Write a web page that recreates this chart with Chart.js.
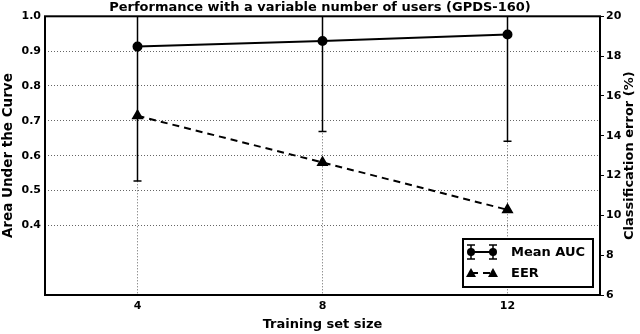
<!DOCTYPE html>
<html>
<head>
<meta charset="utf-8">
<script src="https://cdn.jsdelivr.net/npm/chart.js@4"></script>
<style>
  html, body { margin: 0; padding: 0; background: #fff; }
  #wrap { width: 640px; height: 334px; }
</style>
</head>
<body>
<div id="wrap"><canvas id="perf"></canvas></div>
<script>
// values
const trainingSize = [4, 8, 12];
const meanAuc = [0.913, 0.929, 0.948];
const aucStd = [0.386, 0.26, 0.307];
const eer = [15.0, 12.66, 10.28];
const xTicks = [4, 8, 12];
const aucTicks = [0.4, 0.5, 0.6, 0.7, 0.8, 0.9, 1.0];
const errTicks = [6, 8, 10, 12, 14, 16, 18, 20];

const FONT = 'DejaVu Sans';
const rightTitle = 'Classification error (%)';

// draws the std error bars of Mean AUC
const errorBars = {
	id: 'errorBars',
	afterDatasetsDraw(chart) {
		const { ctx, chartArea, scales } = chart;
		ctx.save();
		ctx.beginPath();
		ctx.rect(chartArea.left, chartArea.top, chartArea.right - chartArea.left, chartArea.bottom - chartArea.top);
		ctx.clip();
		ctx.strokeStyle = '#000';
		ctx.lineWidth = 1.5;
		trainingSize.forEach((x, i) => {
			const px = scales.x.getPixelForValue(x);
			const lo = scales.y.getPixelForValue(meanAuc[i] - aucStd[i]);
			const hi = scales.y.getPixelForValue(meanAuc[i] + aucStd[i]);
			ctx.beginPath();
			ctx.moveTo(px, lo); ctx.lineTo(px, hi);
			ctx.moveTo(px - 4, lo); ctx.lineTo(px + 4, lo);
			ctx.moveTo(px - 4, hi); ctx.lineTo(px + 4, hi);
			ctx.stroke();
		});
		ctx.restore();
	}
};

// black frame round the axes, right axis title (reads upward) and legend box
const frameAndLegend = {
	id: 'frameAndLegend',
	afterDraw(chart) {
		const { ctx, chartArea } = chart;
		ctx.save();
		ctx.strokeStyle = '#000';
		ctx.lineWidth = 2;
		ctx.strokeRect(chartArea.left, chartArea.top, chartArea.right - chartArea.left, chartArea.bottom - chartArea.top);

		// right axis title
		ctx.save();
		ctx.translate(chart.width - 10, (chartArea.top + chartArea.bottom) / 2);
		ctx.rotate(-Math.PI / 2);
		ctx.fillStyle = '#000';
		ctx.font = 'bold 13px "' + FONT + '"';
		ctx.textAlign = 'center';
		ctx.textBaseline = 'middle';
		ctx.fillText(rightTitle, 0, 0);
		ctx.restore();

		const w = 130, h = 48;
		const bx = chartArea.right - 7 - w;
		const by = chartArea.bottom - 8 - h;
		ctx.fillStyle = '#fff';
		ctx.fillRect(bx, by, w, h);
		ctx.strokeRect(bx, by, w, h);

		const sets = chart.data.datasets;
		const x1 = bx + 8, x2 = bx + 30;
		ctx.font = 'bold 13px "' + FONT + '"';
		ctx.textBaseline = 'middle';
		sets.forEach((ds, i) => {
			const y = by + 13 + i * 21;
			ctx.strokeStyle = '#000';
			ctx.lineWidth = ds.borderWidth;
			ctx.setLineDash(ds.borderDash || []);
			ctx.beginPath();
			ctx.moveTo(x1, y); ctx.lineTo(x2, y);
			ctx.stroke();
			ctx.setLineDash([]);
			ctx.fillStyle = '#000';
			[x1, x2].forEach(px => {
				if (ds.pointStyle === 'triangle') {
					ctx.beginPath();
					ctx.moveTo(px, y - 5); ctx.lineTo(px + 5, y + 4); ctx.lineTo(px - 5, y + 4);
					ctx.closePath(); ctx.fill();
				} else {
					ctx.lineWidth = 1.5;
					ctx.beginPath();
					ctx.moveTo(px, y - 7); ctx.lineTo(px, y + 7);
					ctx.moveTo(px - 4, y - 7); ctx.lineTo(px + 4, y - 7);
					ctx.moveTo(px - 4, y + 7); ctx.lineTo(px + 4, y + 7);
					ctx.stroke();
					ctx.beginPath(); ctx.arc(px, y, 4, 0, Math.PI * 2); ctx.fill();
				}
			});
			ctx.fillText(ds.label, bx + 48, y + 1);
		});
		ctx.restore();
	}
};

new Chart(document.getElementById('perf'), {
	type: 'line',
	data: {
		datasets: [
			{
				label: 'Mean AUC',
				data: trainingSize.map((x, i) => ({ x: x, y: meanAuc[i] })),
				yAxisID: 'y',
				borderColor: '#000',
				backgroundColor: '#000',
				borderWidth: 2,
				pointStyle: 'circle',
				pointRadius: 4,
				fill: false
			},
			{
				label: 'EER',
				data: trainingSize.map((x, i) => ({ x: x, y: eer[i] })),
				yAxisID: 'y1',
				borderColor: '#000',
				backgroundColor: '#000',
				borderWidth: 2,
				borderDash: [7, 5],
				pointStyle: 'triangle',
				pointRadius: 5,
				fill: false
			}
		]
	},
	options: {
		responsive: true,
		maintainAspectRatio: false,
		animation: false,
		layout: { padding: 0 },
		scales: {
			x: {
				type: 'linear',
				min: 2,
				max: 14,
				afterBuildTicks: axis => { axis.ticks = xTicks.map(v => ({ value: v })); },
				afterFit: axis => { axis.height = 39; },
				grid: { color: '#666', drawTicks: false },
				border: { display: false, dash: [1, 2] },
				ticks: { color: '#000', padding: 5, font: { family: FONT, size: 11, weight: 'bold' } },
				title: { display: true, text: 'Training set size', color: '#000', padding: { top: 0, bottom: 2 }, font: { family: FONT, size: 13, weight: 'bold' } }
			},
			y: {
				position: 'left',
				min: 0.2,
				max: 1.0,
				afterBuildTicks: axis => { axis.ticks = aucTicks.map(v => ({ value: v })); },
				afterFit: axis => { axis.width = 45; },
				grid: { color: '#666', drawTicks: false },
				border: { display: false, dash: [1, 2] },
				ticks: { color: '#000', padding: 4, font: { family: FONT, size: 11, weight: 'bold' }, callback: v => v.toFixed(1) },
				title: { display: true, text: 'Area Under the Curve', color: '#000', padding: { top: 0, bottom: 2 }, font: { family: FONT, size: 13.5, weight: 'bold' } }
			},
			y1: {
				position: 'right',
				min: 6,
				max: 20,
				afterBuildTicks: axis => { axis.ticks = errTicks.map(v => ({ value: v })); },
				afterFit: axis => { axis.width = 40; },
				grid: { drawOnChartArea: false, drawTicks: true, tickLength: 4, color: '#000' },
				border: { display: false },
				ticks: { color: '#000', padding: 2, font: { family: FONT, size: 11, weight: 'bold' } },
				title: { display: false }
			}
		},
		plugins: {
			legend: { display: false },
			tooltip: { enabled: false },
			title: {
				display: true,
				text: 'Performance with a variable number of users (GPDS-160)',
				color: '#000',
				padding: { top: 0, bottom: 2 },
				font: { family: FONT, size: 13, weight: 'bold', lineHeight: 1.1 }
			}
		}
	},
	plugins: [errorBars, frameAndLegend]
});
</script>
</body>
</html>
